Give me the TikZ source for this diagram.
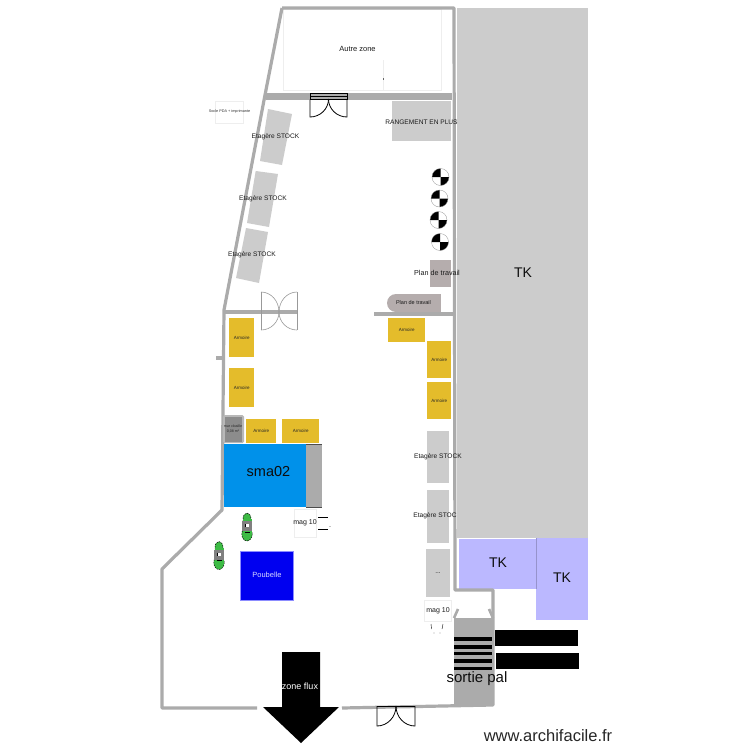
\documentclass[tikz,border=0pt]{standalone}
\usepackage{fontspec}
\setmainfont{Liberation Sans}
\definecolor{wall}{HTML}{ABABAB}
\definecolor{shelf}{HTML}{CCCCCC}
\definecolor{arm}{HTML}{E4BC2B}
\definecolor{lilac}{HTML}{BBB8FF}
\definecolor{bench}{HTML}{B5ADAD}
\definecolor{smablue}{HTML}{0091EA}
\definecolor{trash}{HTML}{0000F0}
\definecolor{pale}{HTML}{EEEEEE}
\definecolor{cart}{HTML}{3DBB45}
\tikzset{
  wallline/.style={draw=wall,line width=3.2pt,line join=round},
  armbox/.style={fill=arm,draw=none,inner sep=0pt,font=\fontsize{4.5}{5}\selectfont,text=black!85},
  lab/.style={inner sep=0pt,font=\fontsize{6.6}{8}\selectfont,text=black!90},
  big/.style={inner sep=0pt,font=\fontsize{14}{16}\selectfont,text=black!95},
  doorline/.style={draw=black,line width=0.8pt},
  graydoor/.style={draw=black!40,line width=0.6pt},
  hatchbar/.style={fill=black,draw=none},
  pic box/.style={draw=pale,line width=0.6pt,fill=white,inner sep=0pt}
}
\newcommand{\rectnode}[6][armbox]{\node[#1,minimum width=#4pt-#2pt,minimum height=#5pt-#3pt,anchor=north west] at (#2,#3) {#6};}
\newcommand{\chk}[2]{%
  \fill[white] (#1,#2) circle (8.5);
  \fill[black] (#1,#2) -- (#1-8.5,#2) arc (180:270:8.5) -- cycle;
  \fill[black] (#1,#2) -- (#1+8.5,#2) arc (0:90:8.5) -- cycle;
  \draw[black!45,line width=0.3pt] (#1,#2) circle (8.5);}
\newcommand{\crt}[2]{%
  \fill[cart] (#1,#2+7) ellipse (5.2 and 7);
  \fill[cart] (#1,#2-8) ellipse (4 and 6);
  \draw[black,line width=0.5pt,dash pattern=on 1.6pt off 1pt] (#1,#2+7) ellipse (5.2 and 7);
  \draw[black,line width=0.5pt,dash pattern=on 1.6pt off 1pt] (#1,#2-8) ellipse (4 and 6);
  \fill[cart] (#1-4.5,#2-8) rectangle (#1+4.5,#2+8);
  \fill[black!50] (#1-5,#2-6) rectangle (#1+5,#2+4);
  \fill[white] (#1-2,#2-3) rectangle (#1+2,#2);
  \draw[black,line width=0.5pt] (#1-2.5,#2+5) -- (#1+2.5,#2+5) (#1-1.5,#2-3) -- (#1-1.5,#2);}
\begin{document}
\begin{tikzpicture}[x=1pt,y=-1pt]
\useasboundingbox (0,0) rectangle (750,750);
\fill[white] (0,0) rectangle (750,750);
% large zones
\fill[shelf] (457,8) rectangle (588,538);
\fill[lilac] (459,539) rectangle (536,589);
\fill[lilac] (536,538) rectangle (588,620);
\draw[lilac!80!black,line width=0.4pt] (536,538) -- (536,589);
\node[big] (tka) at (523,273) {TK};
\node[big] (tkb) at (498,563) {TK};
\node[big] (tkc) at (562,578) {TK};
% autre zone
\node[pic box,minimum width=158pt,minimum height=81pt,anchor=north west] (autre) at (283,9) {};
\draw[pale,line width=0.4pt] (383,60) -- (383,90);
\draw[black!60,line width=0.4pt] (383,78) -- (383,80);
\node[lab,font=\fontsize{7.5}{9}\selectfont] (autrelab) at (357.5,48.5) {Autre zone};
% walls
\draw[wallline] (282,8) -- (454,8) -- (455,590) -- (493,590) -- (493,705) -- (342,708);
\draw[wallline] (282,8) -- (265,95) -- (224,310) -- (222,510) -- (162,569) -- (162,708) -- (257,708);
\draw[wallline] (224,312) -- (297,312);
\draw[wallline] (374,314) -- (455,314);
\draw[wallline] (216,358) -- (223,358);
\fill[wall] (266,93) rectangle (452,100);
% top double door
\draw[doorline,fill=wall] (310,93) rectangle (347,99.5);
\draw[doorline] (310,96.5) -- (347,96.5);
\draw[doorline] (310,99.5) -- (310,117) arc (90:0:18.5 and 18);
\draw[doorline] (347,99.5) -- (347,117) arc (90:180:18.5 and 18);
% gray door
\draw[graydoor] (261,292) -- (261,330);
\draw[graydoor] (297,292) -- (297,330);
\draw[graydoor] (261,292) arc (270:360:18 and 20);
\draw[graydoor] (261,330) arc (90:0:18 and 18);
\draw[graydoor] (297,292) arc (270:180:18 and 20);
\draw[graydoor] (297,330) arc (90:180:18 and 18);
% bottom door
\draw[doorline] (377,706) -- (415,706);
\draw[doorline] (377,706) -- (377,726) arc (90:0:19 and 20);
\draw[doorline] (415,706) -- (415,726) arc (90:180:19 and 20);
% shelves rotated
\fill[shelf] (268,109) -- (292,114) -- (282,165) -- (260,161) -- cycle;
\fill[shelf] (255.7,171) -- (278,174) -- (269,227) -- (247,223) -- cycle;
\fill[shelf] (246,228) -- (268,232) -- (259,283) -- (236,278) -- cycle;
\node[lab] (e1) at (275.5,137) {Etagère STOCK};
\node[lab] (e2) at (263,199) {Etagère STOCK};
\node[lab] (e3) at (252,255) {Etagère STOCK};
% rangement
\fill[shelf] (392,101) rectangle (451,141);
\node[lab] (rang) at (421.5,122) {RANGEMENT EN PLUS};
% socle
\node[pic box,minimum width=28pt,minimum height=22pt,anchor=north west] (soclebox) at (215,101) {};
\node[inner sep=0pt,font=\fontsize{3.8}{4}\selectfont,text=black!80] (socle) at (229.5,112) {Socle PDA + imprimante};
% checks
\chk{440.5}{177}
\chk{439.5}{198.5}
\chk{438.5}{220}
\chk{440}{242}
% plan de travail
\fill[bench] (430,260) rectangle (451,287);
\node[lab,font=\fontsize{7.2}{9}\selectfont] (plan1) at (437,272.5) {Plan de travail};
\fill[bench] (396,294) rectangle (441,312);
\fill[bench] (396,303) circle (9);
\node[inner sep=0pt,font=\fontsize{5.5}{6}\selectfont,text=black!90] (plan2) at (413.5,303) {Plan de travail};
% armoires
\rectnode{229}{318}{254}{357}{Armoire}
\rectnode{229}{368}{254}{407}{Armoire}
\rectnode{246}{419}{276}{443}{Armoire}
\rectnode{282}{419}{319}{443}{Armoire}
\rectnode{388}{318}{425}{342}{Armoire}
\rectnode{427}{341}{451}{378}{Armoire}
\rectnode{427}{382}{451}{419}{Armoire}
% small gray
\fill[black!28,rounded corners=1.5pt] (223,415) rectangle (244,443);
\fill[black!45] (225,417) rectangle (242,442);
\node[inner sep=0pt,align=center,font=\fontsize{3.6}{4.2}\selectfont,text=black!85] (murc) at (233,429) {mur cloaille\\0,08 m²};
% sma02
\fill[smablue] (224,444) rectangle (322,507);
\fill[wall] (306,444) rectangle (322,507);
\draw[black!70,line width=0.4pt] (306,444.2) -- (322,444.2) (306,506.8) -- (322,506.8);
\node[big,font=\fontsize{14.5}{16}\selectfont] (sma) at (268.5,472) {sma02};
% carts
\crt{247}{527}
\crt{219}{555.5}
% poubelle
\fill[trash,draw=blue!45!white,line width=0.5pt] (240,551) rectangle (293,600);
\node[inner sep=0pt,font=\fontsize{7.5}{9}\selectfont,text=white!85!blue] (poub) at (267,575) {Poubelle};
% mag
\node[pic box,minimum width=22pt,minimum height=28pt,anchor=north west] (magbox) at (294,509) {};
\node[lab,font=\fontsize{7}{8}\selectfont] (mag) at (305,523) {mag 10};
\draw[black,line width=0.4pt] (318,517) -- (328,517) (318,529) -- (328,529);
\fill (330,526.5) circle (0.4);
% right shelves
\fill[shelf] (427,431) rectangle (449,483);
\fill[shelf] (427,490) rectangle (449,543);
\fill[shelf] (426,549) rectangle (450,597);
\node[lab] (e4) at (438,457) {Etagère STOCK};
\node[lab] (e5) at (435,516) {Etagère STOC};
\node[lab] (e6) at (438,573) {...};
\node[pic box,minimum width=27pt,minimum height=21pt,anchor=north west] (magbox2) at (424,600) {};
\node[lab,font=\fontsize{7}{8}\selectfont] (mag2) at (438,611) {mag 10};
\draw[black,line width=0.4pt] (431,624) -- (431.5,629) (443,624) -- (442,629);
\fill (434,633) circle (0.3) (440,633) circle (0.3);
% stairs
\fill[wall] (454,618) rectangle (493,706);
\draw[wall,line width=2.6pt] (454,618) -- (458,609);
\draw[wall,line width=2.6pt] (493,618) -- (489,609);
\fill[hatchbar] (454,637) rectangle (492,640.5);
\fill[hatchbar] (454,645) rectangle (492,648.5);
\fill[hatchbar] (454,651.5) rectangle (492,655);
\fill[hatchbar] (454,659) rectangle (492,662.5);
\fill[hatchbar] (454,666.5) rectangle (492,670);
\node[big,font=\fontsize{15}{17}\selectfont] (sortie) at (477,679) {sortie pal};
% black bars
\fill[black] (495,630) rectangle (578,646);
\fill[black] (496,653) rectangle (579,669);
% arrow
\fill[black] (282,652) -- (320,652) -- (320,707) -- (339,707) -- (301,743) -- (263,707) -- (282,707) -- cycle;
\node[inner sep=0pt,font=\fontsize{9}{10}\selectfont,text=white] (flux) at (300,686) {zone flux};
% watermark
\node[inner sep=0pt,font=\fontsize{16.5}{18}\selectfont,text=black!85] (wm) at (548,735.5) {www.archifacile.fr};
\end{tikzpicture}
\end{document}
